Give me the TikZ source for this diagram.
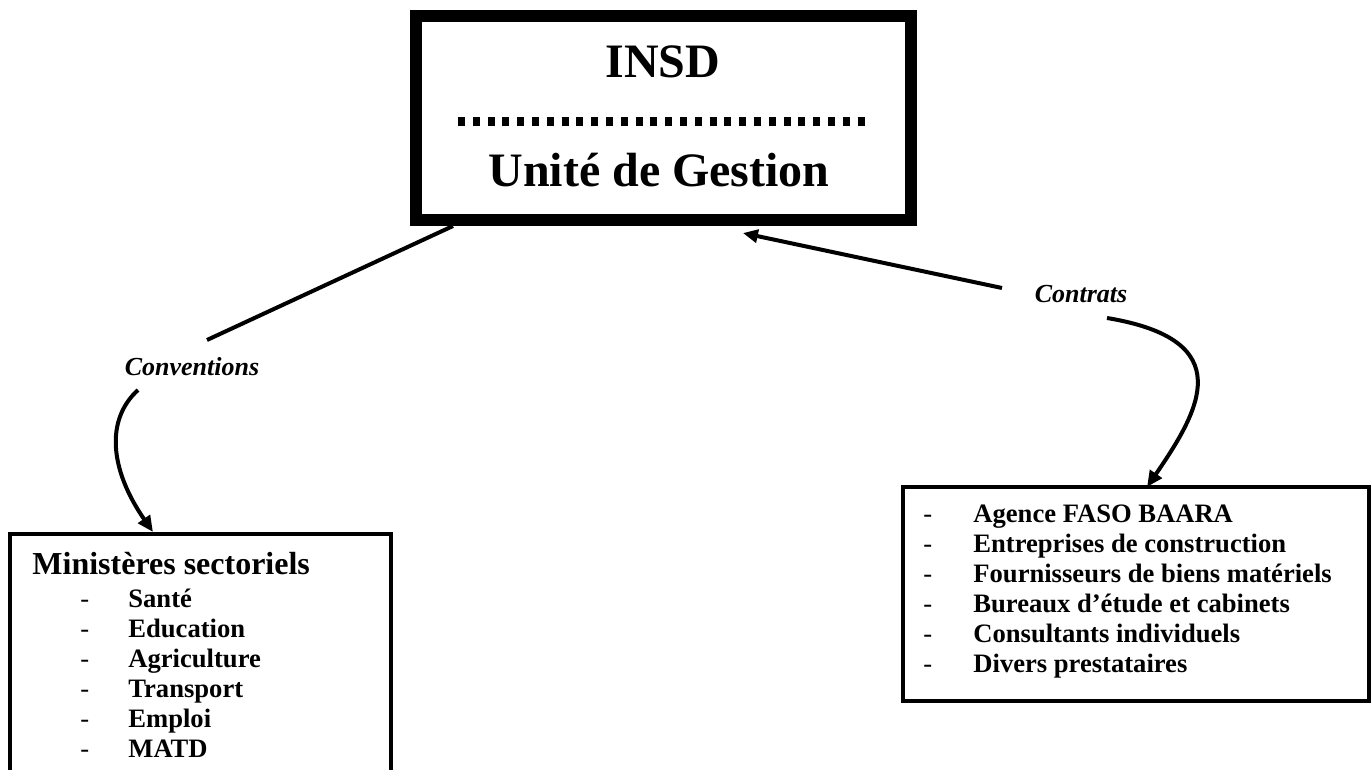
\documentclass[tikz,border=0pt]{standalone}
\usepackage{fontspec}
\setmainfont{Liberation Serif}
\usetikzlibrary{arrows.meta}
\begin{document}
\begin{tikzpicture}[x=0.5pt,y=-0.5pt,
  boxthick/.style={draw,line width=6pt,rectangle,inner sep=0pt},
  boxthin/.style={draw,line width=2pt,rectangle,inner sep=0pt},
  titletext/.style={font=\fontsize{24}{28}\selectfont\bfseries,anchor=base,inner sep=0pt},
  headtext/.style={font=\fontsize{16}{19}\selectfont\bfseries,anchor=base west,inner sep=0pt},
  itemtext/.style={font=\fontsize{13.3}{15}\selectfont\bfseries,anchor=base west,inner sep=0pt},
  dashmark/.style={font=\fontsize{13.3}{15}\selectfont,anchor=base west,inner sep=0pt},
  lbl/.style={font=\fontsize{13}{15}\selectfont\bfseries\itshape,anchor=base,inner sep=0pt},
  conn/.style={line width=2pt},
  tipend/.style={-{Triangle[length=8pt,width=7pt]}},
  tipgap/.style={-{Triangle[length=7.5pt,width=6.5pt,sep=2.5pt]}}
]
\useasboundingbox (0,0) rectangle (1371,770);
\clip (0,0) rectangle (1371,770);

% boxes
\node[boxthick,minimum width=247.75pt,minimum height=102pt] (top) at (663.25,118) {};
\node[boxthin,minimum width=190.5pt,minimum height=143pt] (left) at (200.5,677) {};
\node[boxthin,minimum width=233pt,minimum height=107pt] (right) at (1136,594) {};

% top texts
\node[titletext] (insd) at (663,78) {INSD};
\coordinate (dl) at (458,122);
\coordinate (dr) at (865,122);
\draw[line width=4.5pt,dash pattern=on 3.5pt off 3.9pt] (dl) -- (dr);
\node[titletext] (ug) at (659,187) {Unité de Gestion};

% left texts
\node[headtext] (min) at (32,574) {Ministères sectoriels};
\foreach \t [count=\i] in {Santé,Education,Agriculture,Transport,Emploi,MATD}{
  \node[dashmark] (ld\i) at (80,{607+30*(\i-1)}) {-};
  \node[itemtext] (li\i) at (128,{607+30*(\i-1)}) {\t};
}

% right texts
\foreach \t [count=\i] in {Agence FASO BAARA,Entreprises de construction,Fournisseurs de biens matériels,Bureaux d’étude et cabinets,Consultants individuels,Divers prestataires}{
  \node[dashmark] (rd\i) at (923,{522+30*(\i-1)}) {-};
  \node[itemtext] (ri\i) at (973,{522+30*(\i-1)}) {\t};
}

% labels
\node[lbl] (conv) at (192,375) {Conventions};
\node[lbl] (contr) at (1081,303) {Contrats};

% connectors
\coordinate (a1) at (453,226);
\coordinate (a2) at (207,340);
\coordinate (a3) at (138,390);
\coordinate (a4) at (153,532);
\draw[conn] (a1) -- (a2);
\draw[conn,tipend] (a3) .. controls (105,420) and (110,470) .. (a4);

\coordinate (b1) at (1002,288);
\coordinate (b2) at (738,232);
\coordinate (b3) at (1107,318);
\coordinate (b4) at (1147,487);
\draw[conn,tipgap] (b1) -- (b2);
\draw[conn,tipend] (b3) .. controls (1240,340) and (1200,410) .. (b4);
\end{tikzpicture}
\end{document}
